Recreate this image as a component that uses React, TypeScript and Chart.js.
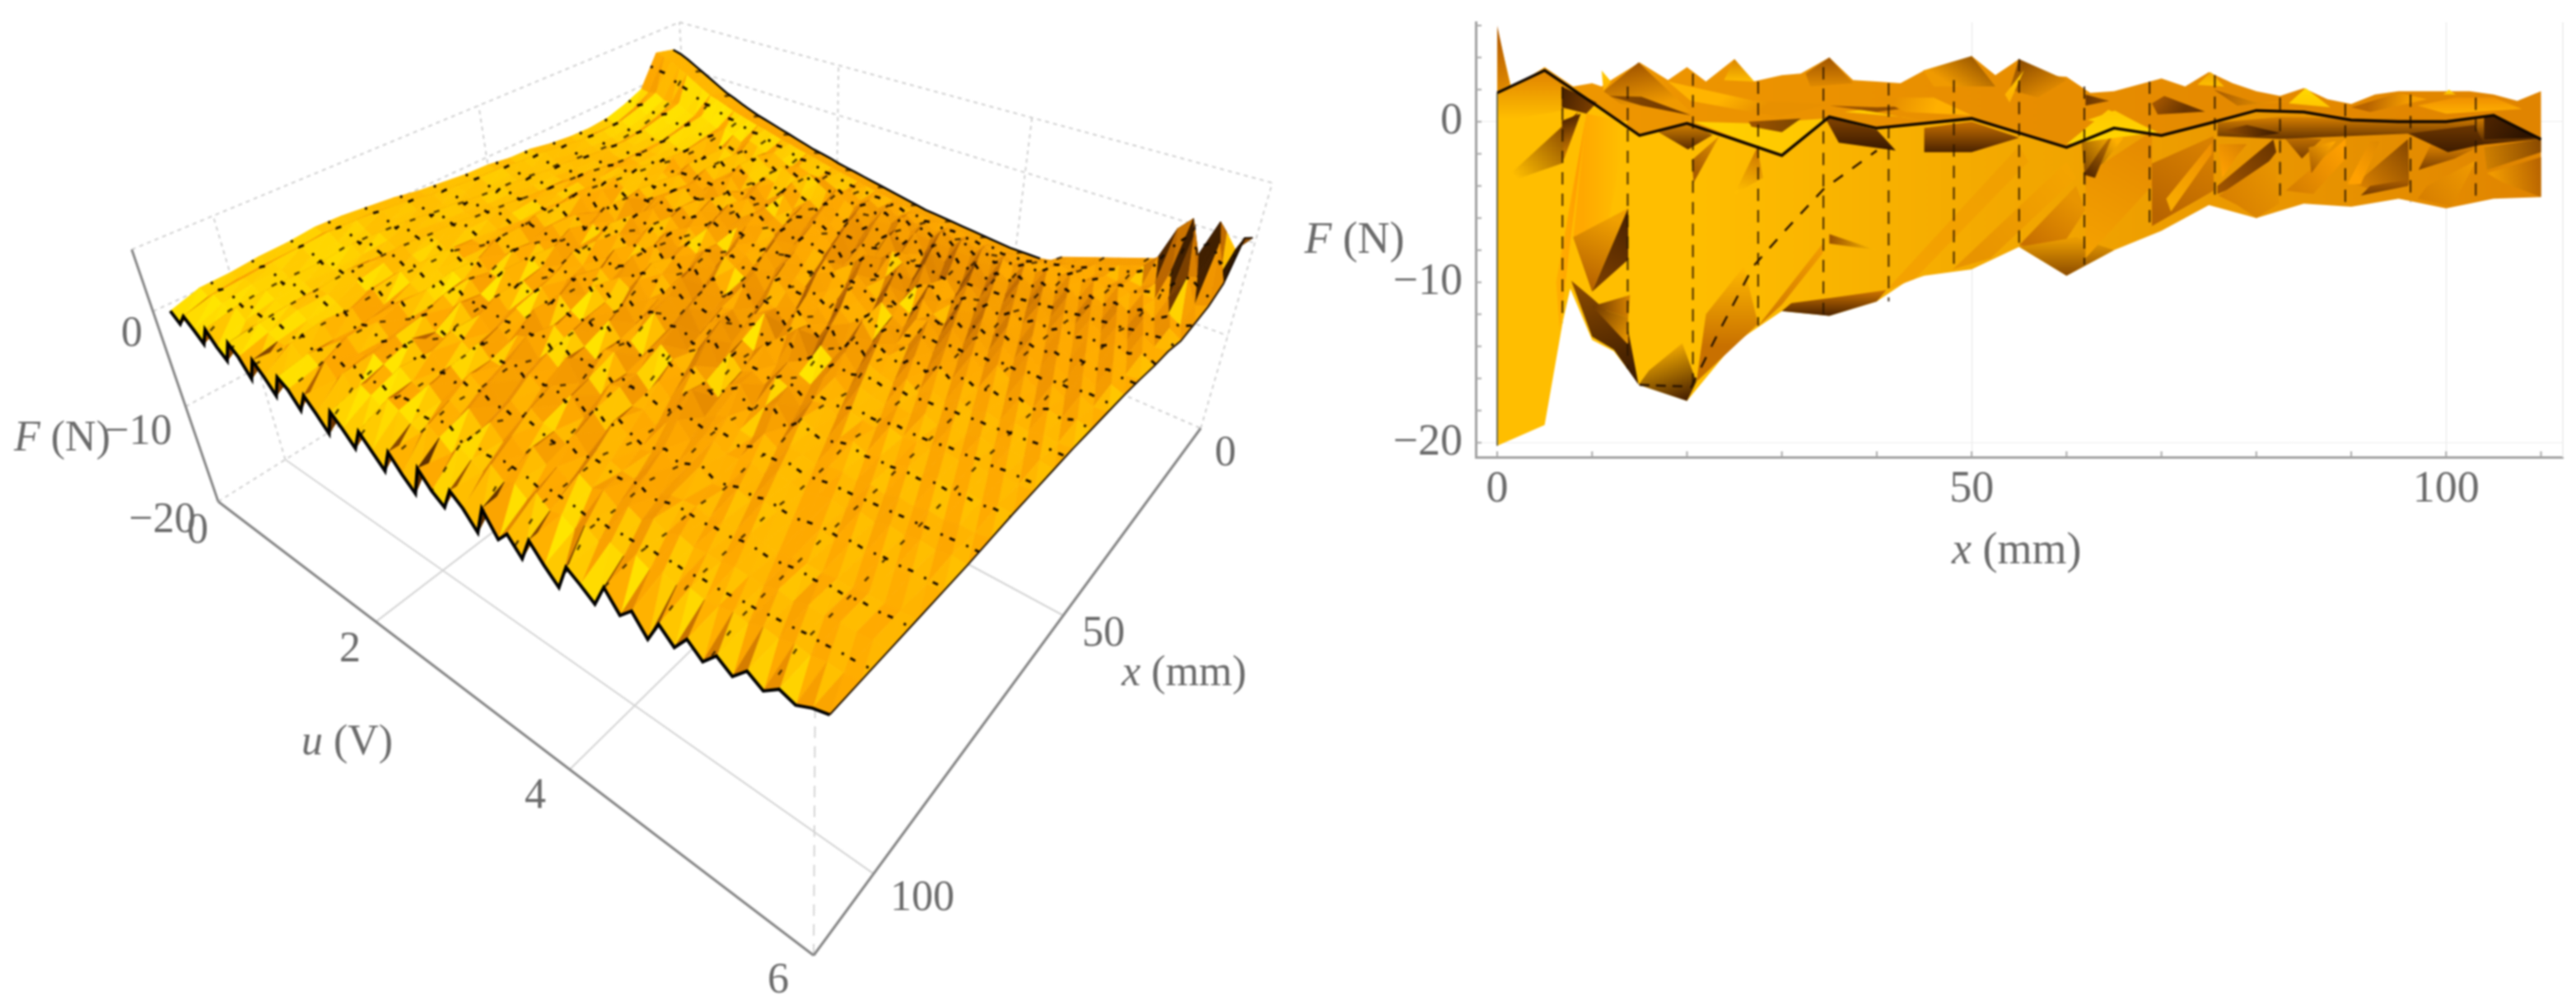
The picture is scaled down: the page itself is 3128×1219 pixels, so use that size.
import React, { useEffect, useRef } from "react";
import { Chart, registerables } from "chart.js";
Chart.register(...registerables);

// ---------- data: 3D surface (left panel), F in tenths of a newton ----------
const xMm = [0,5,10,15,20,25,30,35,40,45,50,55,60,65,70,75,80,85,90,95,100,105,110];
const uStep = 0.1;
const surfaceTenths = [
[30,36,-4,-14,-21,-23,-22,-19,-14,-13,-9,-8,-5,-2,3,6,9,10,7,6,3,2,-7],
[27,33,-6,-18,-26,-25,-26,-22,-18,-17,-12,-11,-9,-5,0,4,5,7,4,3,1,-3,-16],
[22,30,-3,-12,-18,-19,-18,-14,-10,-8,-5,-4,-1,2,7,10,12,13,11,9,6,4,-3],
[16,24,-9,-18,-23,-25,-24,-21,-17,-14,-11,-10,-6,-4,1,3,7,6,4,5,4,-1,-12],
[10,18,-11,-20,-26,-28,-27,-24,-20,-19,-15,-14,-12,-8,-5,-1,1,2,-1,-2,-3,-6,-22],
[4,11,-8,-14,-19,-22,-20,-17,-12,-10,-7,-3,-2,3,5,9,11,12,9,8,7,5,-2],
[-2,5,-14,-20,-24,-24,-25,-19,-17,-13,-12,-8,-7,-3,-1,2,6,4,3,4,2,-4,-15],
[-8,-1,-18,-24,-28,-27,-27,-23,-20,-15,-16,-11,-9,-6,-3,0,1,3,0,0,-2,-5,-24],
[-12,-4,-14,-17,-21,-24,-20,-18,-11,-11,-6,-5,0,2,6,7,10,8,12,7,6,3,-1],
[-17,-8,-19,-23,-26,-25,-24,-16,-17,-9,-10,-4,-6,0,1,5,3,9,4,6,5,-2,-10],
[-21,-12,-24,-27,-30,-28,-27,-22,-19,-14,-13,-10,-11,-7,-4,-3,-2,1,-2,2,-1,-6,-27],
[-25,-15,-20,-20,-22,-20,-15,-12,-8,-5,-2,-9,-10,-7,-6,6,7,9,5,-3,-4,-6,-3],
[-28,-18,-25,-35,-36,-33,-24,-19,-16,-6,-1,2,4,-2,-3,-2,0,1,-7,6,8,3,-14],
[-31,-21,-31,-26,-24,-22,-30,-27,-22,-20,-16,-7,-6,8,9,-5,-6,-5,-1,-7,-6,-10,-28],
[-34,-23,-25,-33,-34,-32,-19,-14,-11,-14,-13,-1,1,-5,-4,7,8,3,4,4,-2,2,-4],
[-37,-26,-29,-24,-22,-21,-28,-24,-19,-4,-1,-13,-12,0,6,-4,2,-6,-7,6,7,-5,-11],
[-40,-29,-34,-34,-33,-31,-20,-16,-13,-24,-14,-3,5,-9,-8,-6,9,7,-2,-5,-5,5,-26],
[-43,-31,-30,-22,-21,-27,-26,-11,-8,-12,-11,-9,-10,4,7,8,-3,-1,7,2,-1,-8,-6],
[-46,-34,-36,-30,-30,-19,-14,-22,-20,-5,1,5,-4,-12,-1,-7,-8,9,-6,-8,6,3,-18],
[-48,-36,-42,-37,-37,-33,-31,-16,-12,-20,-17,-2,4,6,-9,5,6,-4,-9,9,0,-11,-32],
[-50,-38,-36,-24,-24,-29,-17,-13,-24,-6,-3,-14,-11,-4,5,-2,-7,5,5,-3,-6,3,-5],
[-53,-41,-40,-31,-28,-20,-26,-23,-9,-18,-12,-5,3,-16,0,8,1,-8,0,6,8,-2,-16],
[-55,-43,-45,-36,-35,-33,-17,-11,-21,-10,-1,-10,-9,2,9,-6,-6,3,-7,-7,-1,-9,-29],
[-57,-45,-42,-22,-20,-27,-29,-24,-6,-20,-15,3,5,-8,-7,9,9,-7,8,2,-6,6,-7],
[-59,-47,-47,-29,-30,-18,-20,-16,-18,-3,-6,-12,-13,1,7,-3,-12,4,-4,-8,7,0,-20],
[-61,-49,-50,-35,-33,-31,-27,-9,-12,-16,-13,-2,6,-6,-5,-9,3,8,-5,5,-4,-7,-33],
[-63,-51,-44,-30,-41,-24,-33,-18,-6,-22,-4,-16,-1,7,-12,2,-6,-10,6,-3,3,-10,-9],
[-65,-53,-52,-38,-26,-34,-16,-26,-20,-9,-19,-3,-12,-8,4,-11,8,1,-8,7,-5,4,-24],
[-67,-55,-47,-44,-36,-22,-30,-12,-23,-15,-2,-20,5,-3,-13,6,-4,-9,3,-10,6,-3,-36],
[-69,-57,-53,-33,-42,-32,-19,-28,-9,-25,-10,-7,-15,4,-1,-8,-12,7,-6,1,-7,-12,-6],
[-71,-59,-46,-45,-28,-38,-25,-14,-21,-4,-17,-22,-2,-11,8,-5,3,-13,2,-9,4,1,-21],
[-73,-61,-55,-36,-44,-20,-34,-24,-13,-19,-6,-12,-18,2,-7,-15,6,-3,-11,5,-8,-6,-30],
[-74,-62,-49,-47,-30,-39,-16,-29,-22,-7,-24,-1,-9,-20,5,-2,-10,-14,4,-4,3,-11,-8],
[-75,-63,-56,-34,-45,-26,-36,-11,-26,-18,-3,-21,-6,-4,-16,7,-5,2,-12,-6,-9,2,-18],
[-76,-64,-50,-48,-32,-41,-21,-31,-8,-24,-14,-8,-23,3,-10,-3,-17,5,-1,-13,5,-8,-34],
[-77,-65,-57,-38,-46,-19,-37,-23,-17,-5,-27,-11,-2,-15,6,-12,-2,-8,-14,3,-6,-3,-5],
[-78,-66,-51,-49,-27,-42,-28,-10,-28,-20,-7,-25,4,-7,-18,1,-13,-6,3,-11,-2,-12,-27],
[-79,-67,-58,-35,-47,-33,-15,-32,-12,-24,-16,-3,-19,-13,2,-9,-4,-16,-5,2,-10,1,-15],
[-80,-68,-52,-50,-29,-44,-24,-26,-21,-6,-29,-14,-8,-1,-11,-20,6,-7,-13,-4,4,-9,-31],
[-81,-69,-59,-37,-48,-22,-38,-13,-30,-17,-9,-22,3,-17,-6,-2,-15,1,-10,-8,-3,-6,-7],
[-82,-69,-53,-51,-31,-45,-17,-34,-10,-27,-19,-5,-24,-9,-14,5,-8,-12,-2,-9,2,-13,-23],
[-82,-70,-60,-39,-49,-28,-40,-20,-25,-8,-12,-26,-4,-16,0,-13,-3,-5,-11,1,-7,-2,-36],
[-82,-70,-54,-52,-33,-46,-23,-15,-31,-18,-28,-7,-13,-21,-5,-7,-10,-1,-6,-12,0,-10,-10],
[-82,-69,-61,-41,-50,-24,-37,-30,-11,-25,-6,-20,-1,-10,-19,3,-12,-8,0,-5,-6,-4,-19],
[-80,-66,-55,-46,-35,-43,-18,-27,-22,-12,-21,-4,-15,-3,-8,-14,-2,-6,-9,-3,2,-9,-29],
[-72,-63,-50,-38,-43,-25,-33,-15,-28,-8,-17,-11,-2,-13,-6,-1,-9,-3,-7,-2,-4,-1,-6],
[-68,-60,-53,-44,-30,-38,-20,-26,-9,-20,-4,-14,-7,-1,-11,-5,-2,-8,-1,-6,1,-7,-24],
[-64,-58,-45,-34,-40,-22,-30,-12,-24,-6,-15,-2,-10,-5,-1,-9,-4,0,-5,-2,-3,-2,-12],
[-60,-55,-48,-39,-28,-35,-17,-23,-8,-18,-3,-11,-1,-8,-4,-2,-7,-3,1,-4,-1,-6,-30],
[-56,-50,-42,-31,-37,-21,-28,-11,-21,-5,-13,0,-8,-3,-6,1,-3,-5,-2,0,-2,-1,-8],
[-52,-46,-44,-36,-26,-32,-15,-20,-7,-15,-2,-9,-2,-6,1,-4,-1,-2,-4,-1,1,-4,-21],
[-48,-42,-39,-29,-34,-19,-25,-10,-18,-4,-11,-1,-6,0,-3,-1,-4,1,-1,-3,0,-2,-5],
[-44,-38,-41,-33,-24,-30,-14,-18,-6,-13,-1,-7,0,-5,-1,-2,0,-2,2,0,-1,1,-17],
[-40,-34,-36,-27,-32,-17,-22,-9,-15,-3,-9,-2,-4,1,-2,1,-3,3,0,2,3,-1,-3],
[-36,-20,-38,-30,-22,-27,-12,-16,-5,-11,0,-6,1,-3,2,-1,1,0,3,1,0,4,-13],
[-32,15,-30,-26,-30,-15,-20,-8,-13,-2,-8,1,-3,2,0,3,-1,4,1,3,5,2,1],
[-25,30,-12,-28,-20,-25,-10,-14,-4,-9,1,-4,2,-1,3,1,2,2,4,2,3,6,-8],
[-15,-5,28,-22,-28,-13,-18,-6,-11,-1,-6,2,-1,3,1,4,0,5,3,5,6,4,3],
[10,35,-10,5,-18,-22,-8,-12,-3,-7,2,-2,3,0,4,2,3,3,5,4,5,7,-2],
[-5,-18,30,-20,-25,-12,-15,-5,-9,0,-4,3,0,4,2,5,2,6,4,6,7,6,5],
[12,26,-8,-16,-18,-20,-14,-12,-8,-5,-3,-1,1,2,3,4,4,4,5,6,7,8,9],
];
const surfaceF = surfaceTenths.map(r => r.map(v => v / 10));

// ---------- data: projection onto the F-x plane (right panel) ----------
const topX = [0,1.5,5,8,10,11,12,15,18,20,22,25,27,30,32,35,37.5,40,42.5,45,47,50,52.5,55,57.5,60,62.5,65,70,72.5,75,77.5,80,82.5,85,87.5,90,92.5,95,100,102.5,105,107.5,110];
const topF = [5.8,2.1,3.4,2.2,2.4,2.2,2.6,3.7,2.6,3.4,2.5,3.9,2.5,2.9,3.0,4.0,2.6,2.5,2.4,3.2,2.8,4.1,2.9,3.9,2.9,2.8,1.8,1.9,2.7,2.2,3.1,2.4,1.9,1.6,2.1,1.4,1.1,1.7,1.9,1.9,1.9,1.7,1.3,1.9];
const ridgeF = [1.8,3.2,1.2,-0.85,-0.1,-1.1,-2.1,0.3,-0.4,-0.1,0.2,-0.7,-1.6,-0.4,-0.85,-0.1,0.7,0.6,0.1,0.0,0.0,0.4,-1.1];
const lowX = [0,5,6.9,7.7,10,12.3,15,20,25,30,35,40,43,45,50,55,60,65,70,75,80,85,90,95,100,105,110];
const lowF = [-20.2,-18.9,-12.5,-10.4,-13.6,-14.3,-16.4,-17.4,-13.8,-11.8,-12.1,-11.2,-10.0,-9.6,-9.2,-7.8,-9.6,-8.0,-6.8,-5.2,-6.0,-5.1,-5.3,-4.8,-5.4,-4.8,-4.7];
const meshX = [6.875,13.75,20.625,27.5,34.375,41.25,48.125,55,61.875,68.75,75.625,82.5,89.375,96.25,103.125];
const meshTopF = [2.2,2.2,3.0,2.5,3.4,2.4,2.6,3.9,2.2,2.5,2.9,1.5,1.1,1.7,1.5];
const meshLowF = [-12.5,-15.4,-17.0,-12.7,-12.0,-11.2,-9.2,-7.8,-8.9,-6.8,-5.1,-5.1,-5.2,-5.0,-4.8];
const diagonalX = [20.4,23,27,30,34.4,40];
const diagonalF = [-16.6,-13.5,-9,-7,-4.2,-1.8];
const folds = [
 {p:[0,6,1.3,2.4,0,1.8],g:[0,5,1,2],c:["#B86000","#E08A00"]},
 {p:[0,1.8,5,3.2,8.5,2,8,0.8,0,0],g:[3,2.8,3,0.2],c:["#E48A00","#FFBE00"]},
 {p:[6.8,2.2,10.5,1.2,9.4,0.5,6.8,0.9],g:[6.8,1.5,10,1],c:["#4a2200","#7a3e00"]},
 {p:[0,-4,8.5,0.6,6.8,-2.6],g:[2,-3.5,7.5,-0.5],c:["#FFBE00","#8a4a00"]},
 {p:[6.8,0.05,8.8,0.5,7,-2.4],g:[7,0,8,-1.8],c:["#5a2a00","#C87800"]},
 {p:[9.4,0.5,7.6,-8,6.6,-13,6.2,-10],g:[6,-5,9,-5],c:["#FFB000","#FF9C00"]},
 {p:[9.4,0.5,13.7,0,11.5,-7,8,-7.2],g:[9,-3,13,-3],c:["#FFA800","#FFBE00"]},
 {p:[8,-7.2,13.8,-5.4,10,-10.6],g:[12,-6,9,-10],c:["#F0A000","#B86400"]},
 {p:[7.8,-9.9,10,-13.4,12.3,-14.2,14.9,-16.4,13.8,-13,10,-11],g:[9,-10,12,-16],c:["#8a4a00","#3e1c00"]},
 {p:[10,-10.6,13.8,-8.6,13.8,-5.4],g:[10,-10,14,-6],c:["#7a3e00","#4a2200"]},
 {p:[10,-11.5,14,-10.8,13.8,-12.2],g:[10,-11.5,14,-11.5],c:["#6a3500","#D88400"]},
 {p:[10,-11.5,13.8,-13.9,13.8,-12.2],g:[10,-11.5,14,-13],c:["#6a3500","#E09000"]},
 {p:[14.9,-16.4,20,-17.4,21,-16.2,19.5,-13.8,16,-15.5],g:[20,-17.2,18,-13.8],c:["#4a2200","#FFB400"]},
 {p:[20.5,-2.4,23.4,-0.9,20.7,-3.8],g:[20.5,-3,23,-1],c:["#A85C00","#DC8C00"]},
 {p:[17,-0.65,20.4,-0.05,22.7,-0.83,20.1,-1.73],g:[20,-0.1,20,-1.7],c:["#D88400","#5a2c00"]},
 {p:[27.4,-1.6,25,-4.5,28,-3.5],g:[27.5,-1.6,26,-4.5],c:["#C87000","#FFBE00"]},
 {p:[21,-16.2,27.5,-12.6,26,-9,22,-12],g:[24,-14,24,-9],c:["#C87000","#FFB800"]},
 {p:[27.4,-12.8,34.3,-7.6,34.3,-8.2,30,-11.4],g:[27.5,-12,34,-8],c:["#D07A00","#F09A00"]},
 {p:[30,-11.8,35,-12.1,40,-11.2,41,-10.5,35,-11,31,-11.3],g:[35,-12.1,35,-10.6],c:["#4a2200","#C87000"]},
 {p:[35,-7,40,-8,35,-7.6],g:[35,-7.3,40,-7.9],c:["#9a5000","#FFBE00"]},
 {p:[41,-10.5,55,-1.5,56,-2.5,44,-9.8],g:[45,-9,55,-2],c:["#F4A200","#F0A000"]},
 {p:[48,-9.2,60,-2.5,61,-3.5,52,-8.5],g:[50,-8,60,-3],c:["#E89400","#F4A400"]},
 {p:[55,-7.7,61,-4,62,-5.5,59,-8.2],g:[57,-8,61,-5],c:["#C87000","#E89400"]},
 {p:[34.5,0.3,40,-0.5,42,-1.8,36,-1.3],g:[38,0,38,-1.6],c:["#7a3e00","#3e1c00"]},
 {p:[45,-0.4,50,0,55,-1,50,-1.9,45,-1.9],g:[50,0,50,-1.9],c:["#C87000","#4a2200"]},
 {p:[61.5,-0.6,66,-1,62,-4],g:[65,-1,60.5,-3],c:["#FFB000","#6a3500"]},
 {p:[55,-7.8,60,-9.6,65,-8,61,-7.2],g:[60,-9.6,60,-7.4],c:["#8a4a00","#E89A00"]},
 {p:[62,-3.3,69,-0.6,69,-4,62,-8.5],g:[63,-8,69,-2],c:["#F4A000","#E68C00"]},
 {p:[61.8,-3.3,63.4,-1.9,65.1,-0.5,63,-3.5],g:[62,-3,65,-1],c:["#5a2c00","#C87800"]},
 {p:[69,-2.6,75.5,-0.9,75.5,-4.3,69,-6.5],g:[70,-6,75,-1.5],c:["#B86400","#D88000"]},
 {p:[70.5,-4.8,75.3,-1.3,75.3,-2,71,-5.6],g:[71,-5,75,-1.5],c:["#F8AA00","#F09000"]},
 {p:[75.9,-4,81.8,-1.1,82.1,-1.9,80,-3.5,75.9,-4.5],g:[76,-4.2,82,-1.5],c:["#A05400","#6a3500"]},
 {p:[76.4,-3.5,78,-2.1,79,-1.4,76,-1.4],g:[76,-3,79,-1.5],c:["#FFA000","#D88000"]},
 {p:[76,-4.6,82,-2.2,82.4,-5.1,80,-6,78,-5.2],g:[77,-5,82,-3],c:["#D88000","#E89400"]},
 {p:[82.8,-0.9,86.9,-1.07,84.8,-2.3],g:[85,-1,85,-2.3],c:["#C07000","#7a3e00"]},
 {p:[83.1,-4.3,89.4,-1.07,89.4,-2.3,86,-4.5],g:[84,-4,89,-1.5],c:["#D88000","#FFA000"]},
 {p:[85.5,-1.6,88.4,-1.2,85.8,-3.2],g:[85.5,-3,88,-1.3],c:["#A85C00","#FFA800"]},
 {p:[90.4,-3.9,96,-1.07,96.1,-3.9,92.5,-4.3],g:[91,-4,96,-1.5],c:["#D88000","#8a4a00"]},
 {p:[89.6,-3.9,92,-1.2,93,-1.2,91,-3.9],g:[90,-3,93,-1.5],c:["#FFA000","#E08A00"]},
 {p:[91,-4.6,96,-4,96,-3.6,92,-4],g:[92,-4.5,92,-3.7],c:["#7a3e00","#A85C00"]},
 {p:[97.1,-3,98.4,-1.4,103.3,-1.6,100.9,-2.3],g:[100,-1.5,100,-3],c:["#D88000","#7a3e00"]},
 {p:[97,-4.8,98,-4,103.2,-2.4,100.6,-5.3],g:[98,-5,103,-2.6],c:["#D88000","#F09A00"]},
 {p:[104,-1.6,110,-1.07,110,-1.9,104.3,-3],g:[104,-2,110,-1.4],c:["#D08000","#8a4a00"]},
 {p:[104.3,-3.2,110,-2.2,110,-4.7,106,-3.8],g:[105,-3.5,110,-3],c:["#F09A00","#B86400"]},
 {p:[75.9,-0.05,82.5,0.3,103.1,0.12,105.3,0.38,110,-1.07,104.4,-1.4,100.2,-1.6,96,-0.74,82.5,-1.07,75.9,-0.9],g:[90,0.3,90,-1.4],c:["#D88000","#4a2200"]},
 {p:[96,-0.74,103,-0.2,104,-1.4,100.2,-1.9],g:[100,-0.3,100,-1.9],c:["#6a3500","#3e1c00"]},
 {p:[104,0.3,105.3,0.38,110,-1,104,-1.1],g:[105,0.3,108,-1],c:["#4a2200","#2e1400"]},
 {p:[76.4,-0.56,79,-0.2,82.5,-0.7,80,-0.95],g:[76,-0.5,82,-0.7],c:["#A05400","#3e1c00"]},
 {p:[83.4,1.14,85.2,2.1,87.8,0.9],g:[85,2,85,1],c:["#FFD800","#FFC800"]},
 {p:[62.2,0.1,65.1,0.7,69.1,-0.56,65.1,-0.2],g:[62,0,69,0],c:["#FFD000","#FFC000"]},
 {p:[73.8,2.3,75.2,3.1,76.6,2.2],g:[75,3,75,2.2],c:["#F0A800","#FFC000"]},
 {p:[99.7,1.7,100.3,2,101,1.7],g:[100,2,100,1.7],c:["#FFD000","#FFC000"]},
 {p:[69,1.15,70.3,1.6,74.6,0.63,69.6,0.45],g:[70,1.5,72,0.5],c:["#A05400","#6a3500"]},
 {p:[75.5,2,80,1.2,84,1.3,78,1],g:[76,2,82,1],c:["#A85C00","#F09A00"]},
 {p:[90,0.9,95,1.8,98,1.4,92,0.6],g:[92,1.5,96,0.8],c:["#B86400","#F8A000"]},
 {p:[97,1,101,1.5,105,1.5,108,0.8,100,0.5],g:[100,1.5,100,0.5],c:["#F09000","#FFB000"]},
 {p:[11.2,1.9,14.9,3.7,20.4,0.6,13,1.1],g:[15,3.7,16,1],c:["#A05400","#F09A00"]},
 {p:[11,3.2,12,2.5,11.2,1.9],g:[11,3,11.5,2],c:["#FFC800","#FFB000"]},
 {p:[23.9,2.6,25,3.9,27.1,2.5],g:[25,3.9,25,2.5],c:["#D88400","#FFBE00"]},
 {p:[32.5,3,35,4,37.5,2.4,33,2.2],g:[35,4,35,2.2],c:["#A05400","#E08A00"]},
 {p:[18,2.5,27.1,1.3,35,1.1,29.7,0.3,20.4,1.3],g:[25,2,27,0.4],c:["#FFB400","#E89000"]},
 {p:[11.8,1.6,15.2,1.55,20.4,0.4,15.2,1],g:[12,1.5,20,0.6],c:["#8a4a00","#6a3500"]},
 {p:[20.7,0,30,-2.1,34.6,0.2,26.8,-0.1],g:[22,-0.3,32,-1],c:["#FFD000","#FFC800"]},
 {p:[26.5,0,32,0.2,30,-0.65,26.8,-0.3],g:[26,0,32,0],c:["#A05400","#7a4500"]},
 {p:[44.9,3.2,50,4.1,52.5,2.2,46,2.2],g:[50,4,48,2.2],c:["#A05C00","#F09A00"]},
 {p:[55,3.9,60,2.6,57,1.5,54,2],g:[55,3.8,57,1.5],c:["#8a4a00","#E08A00"]},
 {p:[53.5,1.7,55.5,3.2,54,1.2],g:[55,3,54,1.3],c:["#FFC800","#FFB000"]},
 {p:[36.6,0.6,42.7,0.3,45.3,0,38.4,0.75],g:[37,0.6,45,0],c:["#FFCC00","#FFC000"]},
 {p:[35,1,40,0.6,45,1,40,0.9],g:[35,1,45,1],c:["#A05400","#8a4a00"]},
 {p:[62,1.7,64.5,1.3,62,1],g:[62,1.5,64,1.2],c:["#6a3500","#8a4a00"]},
 {p:[64.4,0.75,69.6,-0.65,60,-1.4],g:[64,0.7,64,-1],c:["#FFC800","#FFD400"]},
 {p:[40,1.5,46,1.5,50,0.4,43,0.6],g:[42,1.5,46,0.5],c:["#E89000","#FFB000"]},
];

// ---------- layout helpers ----------
const F3D = "'Liberation Serif', 'Times New Roman', serif";
const TEXT = "#6a6a6a";
const floorQuad = [[265,609],[988,1160],[1458,520],[838,250]];
const ceilQuad = [[160,303],[990,815],[1545,222],[825,27]];

function homography(q: number[][]) {
  const [[x0,y0],[x1,y1],[x2,y2],[x3,y3]] = q;
  const dx1=x1-x2, dx2=x3-x2, sx=x0-x1+x2-x3, dy1=y1-y2, dy2=y3-y2, sy=y0-y1+y2-y3;
  const den=dx1*dy2-dx2*dy1;
  const g=(sx*dy2-dx2*sy)/den, h=(dx1*sy-sx*dy1)/den;
  const a=x1-x0+g*x1, b=x3-x0+h*x3, d=y1-y0+g*y1, e=y3-y0+h*y3;
  return (s:number,t:number)=>{const w=g*s+h*t+1;return [(a*s+b*t+x0)/w,(d*s+e*t+y0)/w];};
}
const hFloor=homography(floorQuad), hCeil=homography(ceilQuad);
function proj(u:number,x:number,F:number){
  const s=u/6,t=(112.3-x)/114.6,l=(F+20)/26.5;
  const a=hFloor(s,t),b=hCeil(s,t);
  return {x:a[0]+(b[0]-a[0])*l,y:a[1]+(b[1]-a[1])*l};
}
const ramp:[number,number[]][]=[[0.1,[30,14,0]],[0.3,[90,44,0]],[0.5,[184,100,0]],[0.7,[238,146,0]],[0.88,[255,170,0]],[0.95,[255,196,0]],[1,[255,230,0]]];
function toneColor(v:number){
  if(v<=ramp[0][0])return `rgb(${ramp[0][1].join(",")})`;
  for(let i=1;i<ramp.length;i++){
    if(v<=ramp[i][0]){
      const [a,ca]=ramp[i-1],[b,cb]=ramp[i];const k=(v-a)/(b-a);
      return `rgb(${ca.map((c,j)=>Math.round(c+(cb[j]-c)*k)).join(",")})`;
    }
  }
  return "rgb(255,230,0)";
}
function facetTone(p:number[][]){
  const v=p.map(([i,j])=>[i*15,j*33,surfaceF[i][j]*8]);
  const a=[v[1][0]-v[0][0],v[1][1]-v[0][1],v[1][2]-v[0][2]],b=[v[2][0]-v[0][0],v[2][1]-v[0][1],v[2][2]-v[0][2]];
  let n=[a[1]*b[2]-a[2]*b[1],a[2]*b[0]-a[0]*b[2],a[0]*b[1]-a[1]*b[0]];
  if(n[2]<0)n=n.map(c=>-c);
  const m=Math.hypot(n[0],n[1],n[2]);
  return (0.3*n[0]+0.25*n[1]+0.92*n[2])/m;
}
function surfAt(u:number,x:number){
  const fi=Math.min(u/uStep,surfaceF.length-1.0001),fj=Math.min(x/5,xMm.length-1.0001);
  const i=Math.floor(fi),j=Math.floor(fj),a=fi-i,b=fj-j;
  return surfaceF[i][j]*(1-a)*(1-b)+surfaceF[i+1][j]*a*(1-b)+surfaceF[i][j+1]*(1-a)*b+surfaceF[i+1][j+1]*a*b;
}
const lineDs=(data:any[],color:string,width:number,dash:number[]=[])=>({data,borderColor:color,backgroundColor:color,borderWidth:width,borderDash:dash,pointRadius:0,showLine:true,fill:false,tension:0,parsing:false});

function buildLeftDatasets(){
  const back:any[]=[];
  const grid="#d4d4d4",dot="#d0d0d0",axis="#858585";
  for(const u of [2,4]){
    back.push(lineDs([proj(u,112.3,-20),proj(u,-2.3,-20)],grid,2));
    back.push(lineDs([proj(u,-2.3,-20),proj(u,-2.3,6.5)],dot,2,[5,5]));
  }
  for(const x of [50,100]){
    back.push(lineDs([proj(0,x,-20),proj(6,x,-20)],grid,2));
    back.push(lineDs([proj(0,x,-20),proj(0,x,6.5)],dot,2,[5,5]));
  }
  for(const f of [-20,-10,0]){
    back.push(lineDs([proj(0,112.3,f),proj(0,-2.3,f)],dot,2,[5,5]));
    back.push(lineDs([proj(0,-2.3,f),proj(6,-2.3,f)],dot,2,[5,5]));
  }
  back.push(lineDs([proj(0,112.3,6.5),proj(0,-2.3,6.5)],dot,2,[5,5]));
  back.push(lineDs([proj(0,-2.3,6.5),proj(6,-2.3,6.5)],dot,2,[5,5]));
  back.push(lineDs([proj(0,-2.3,-20),proj(0,-2.3,6.5)],dot,2,[5,5]));
  back.push(lineDs([proj(6,-2.3,-20),proj(6,-2.3,6.5)],dot,2,[5,5]));
  back.push(lineDs([proj(6,112.3,-20),proj(6,112.3,6.5)],grid,2,[14,10]));
  back.push(lineDs([proj(0,112.3,-20),proj(6,112.3,-20)],axis,3));
  back.push(lineDs([proj(6,112.3,-20),proj(6,-2.3,-20)],axis,3));
  back.push(lineDs([proj(0,112.3,-20),proj(0,112.3,6.5)],axis,3));
  const rows=surfaceF.length,cols=xMm.length;
  const facet=(tri:number[][])=>{
    const c=toneColor(facetTone(tri));
    const pts=tri.map(([i,j])=>proj(i*uStep,xMm[j],surfaceF[i][j]));
    back.push({data:[...pts,pts[0]],borderColor:c,backgroundColor:c,borderWidth:1,pointRadius:0,showLine:true,fill:"shape",tension:0,parsing:false});
  };
  for(let i=0;i<rows-1;i++)for(let j=0;j<cols-1;j++){
    facet([[i,j],[i+1,j],[i+1,j+1]]);
    facet([[i,j],[i+1,j+1],[i,j+1]]);
  }
  const ink="#170b00";
  for(const x of meshX){
    const pts=surfaceF.map((_,i)=>proj(i*uStep,x,surfAt(i*uStep,x)));
    back.push(lineDs(pts,ink,3,[3,9,7,15]));
  }
  for(const x of meshX){
    const u=x/110*6;
    const pts=xMm.map(xx=>proj(u,xx,surfAt(u,xx)));
    back.push(lineDs(pts,"rgba(23,11,0,0.75)",2.5,[7,24]));
  }
  back.push(lineDs(surfaceF.map((r,i)=>proj(i*uStep,110,r[22])),"#000",4));
  back.push(lineDs(surfaceF.slice(0,44).map((r,i)=>proj(i*uStep,0,r[0])),"#000",2.5));
  back.push(lineDs(xMm.map((x,j)=>proj(6,x,surfaceF[60][j])),"#1a0c00",2));
  return back.reverse();
}

function gradFill(f:any){
  return (c:any)=>{
    const {x,y}=c.chart.scales;
    if(!x||!y)return f.c[0];
    const pts=[x.getPixelForValue(f.g[0]),y.getPixelForValue(f.g[1]),x.getPixelForValue(f.g[2]),y.getPixelForValue(f.g[3])];
    if(!pts.every(Number.isFinite))return f.c[0];
    const g=c.chart.ctx.createLinearGradient(pts[0],pts[1],pts[2],pts[3]);
    g.addColorStop(0,f.c[0]);g.addColorStop(1,f.c[1]);
    return g;
  };
}
function polyDs(f:any){
  const data:any[]=[];
  for(let i=0;i<f.p.length;i+=2)data.push({x:f.p[i],y:f.p[i+1]});
  data.push(data[0]);
  return {data,backgroundColor:gradFill(f),borderColor:"rgba(0,0,0,0)",borderWidth:0,pointRadius:0,showLine:true,fill:"shape",tension:0,parsing:false};
}
function buildRightDatasets(){
  const back:any[]=[];
  const ridge=xMm.map((x,i)=>({x,y:ridgeF[i]}));
  const upper=topX.map((x,i)=>({x,y:topF[i]}));
  const lower=lowX.map((x,i)=>({x,y:lowF[i]}));
  const flat=(a:any[])=>a.flatMap(o=>[o.x,o.y]);
  back.push(polyDs({p:[...flat(upper),...flat([...ridge].reverse())],g:[0,0,110,0],c:["#F09800","#E08400"]}));
  back.push(polyDs({p:[...flat(ridge),...flat([...lower].reverse())],g:[20,0,110,0],c:["#FFBE00","#E08400"]}));
  folds.forEach(f=>back.push(polyDs(f)));
  meshX.forEach((x,i)=>back.push(lineDs([{x,y:meshTopF[i]},{x,y:meshLowF[i]}],"rgba(40,20,0,0.8)",2.2,[15,11])));
  back.push(lineDs(diagonalX.map((x,i)=>({x,y:diagonalF[i]})),"#2a1400",2.5,[14,14]));
  back.push(lineDs([{x:15,y:-16.4},{x:20,y:-16.5}],"#2a1400",2.5,[12,8]));
  back.push(lineDs([{x:0,y:1.8},{x:0,y:-20.2}],"#6a6a50",2));
  back.push(lineDs(ridge,"#120800",3.5));
  return back.reverse();
}

const leftLabels:any[]=[
  ["0",160,406],["\u221210",168,525],["\u221220",197,632],
  ["0",240,645],["2",425,789],["4",650,967],["6",945,1191],
  ["0",1488,551],["50",1340,770],["100",1120,1091],
];
const leftTextPlugin={id:"leftText",afterDraw(chart:any){
  const c=chart.ctx;c.save();c.fillStyle=TEXT;c.textAlign="center";c.textBaseline="middle";
  c.font=`52px ${F3D}`;
  leftLabels.forEach(([t,x,y])=>c.fillText(t,x,y));
  const mixed=(x:number,y:number,v:string,r:string)=>{
    c.textAlign="left";c.font=`italic 52px ${F3D}`;c.fillText(v,x,y);
    const w=c.measureText(v).width;c.font=`52px ${F3D}`;c.fillText(r,x+w,y);
  };
  mixed(17,533,"F"," (N)");mixed(366,902,"u"," (V)");mixed(1362,818,"x"," (mm)");
  c.restore();
}};
const fAxisTicks=[-20,-18,-16,-14,-12,-10,-8,-6,-4,-2,0,2,4,6];
const xAxisTicks=[0,10,20,30,40,50,60,70,80,90,100,110];
const rightDecorPlugin={id:"rightDecor",afterDraw(chart:any){
  const c=chart.ctx,{x,y}=chart.scales,a=chart.chartArea;
  c.save();c.strokeStyle="#a8a8a8";c.lineWidth=2;
  c.beginPath();
  x.ticks.forEach((t:any)=>{const p=x.getPixelForValue(t.value);c.moveTo(p,a.bottom);c.lineTo(p,a.bottom-7);});
  y.ticks.forEach((t:any)=>{const p=y.getPixelForValue(t.value);c.moveTo(a.left,p);c.lineTo(a.left+7,p);});
  c.stroke();
  c.strokeStyle="#efefef";c.beginPath();c.moveTo(a.right,a.top);c.lineTo(a.right,a.bottom);c.stroke();
  c.fillStyle=TEXT;c.textBaseline="middle";
  const mixed=(px:number,py:number,v:string,r:string)=>{
    c.textAlign="left";c.font=`italic 54px ${F3D}`;c.fillText(v,px,py);
    const w=c.measureText(v).width;c.font=`54px ${F3D}`;c.fillText(r,px+w,py);
  };
  mixed(24,293,"F"," (N)");mixed(810,670,"x"," (mm)");
  c.restore();
}};

export default function App(){
  const leftRef=useRef<HTMLCanvasElement>(null);
  const rightRef=useRef<HTMLCanvasElement>(null);
  useEffect(()=>{
    const base={responsive:false,animation:false,devicePixelRatio:1,events:[],
      plugins:{legend:{display:false},tooltip:{enabled:false}}};
    const left=new Chart(leftRef.current as any,{type:"scatter",
      data:{datasets:buildLeftDatasets()},
      plugins:[leftTextPlugin],
      options:{...base,layout:{padding:0},scales:{
        x:{type:"linear",display:false,min:0,max:1560},
        y:{type:"linear",display:false,min:0,max:1219,reverse:true},
      }} as any});
    const right=new Chart(rightRef.current as any,{type:"scatter",
      data:{datasets:buildRightDatasets()},
      plugins:[rightDecorPlugin],
      options:{...base,layout:{padding:{top:27,right:16,left:0,bottom:0}},scales:{
        x:{type:"linear",min:-2.26,max:112.3,
          afterFit:(s:any)=>{s.height=165;s.paddingLeft=0;s.paddingRight=0;},
          afterBuildTicks:(s:any)=>{s.ticks=xAxisTicks.map(value=>({value}));},
          border:{color:"#a0a0a0",width:3},
          grid:{drawTicks:false,tickLength:0,color:(c:any)=>(c.tick&&(c.tick.value===50||c.tick.value===100))?"#e6e6e6":"rgba(0,0,0,0)"},
          ticks:{autoSkip:false,maxRotation:0,padding:7,color:TEXT,font:{family:"Liberation Serif",size:54},
            callback:(v:any)=>(v%50===0?String(v):"")}},
        y:{type:"linear",min:-20.9,max:6.2,
          afterFit:(s:any)=>{s.width=232;s.paddingTop=0;s.paddingBottom=0;},
          afterBuildTicks:(s:any)=>{s.ticks=fAxisTicks.map(value=>({value}));},
          border:{color:"#a0a0a0",width:3},
          grid:{drawTicks:false,tickLength:0,color:(c:any)=>(c.tick&&(c.tick.value===0||c.tick.value===-20))?"#ececec":"rgba(0,0,0,0)"},
          ticks:{autoSkip:false,padding:16,color:TEXT,font:{family:"Liberation Serif",size:54},
            callback:(v:any)=>(v%10===0?(v<0?"\u2212"+Math.abs(v):String(v)):"")}},
      }} as any});
    return ()=>{left.destroy();right.destroy();};
  },[]);
  const st=(l:number):any=>({position:"absolute",left:l,top:0,filter:"blur(1.1px)"});
  return (
    <div style={{position:"absolute",left:0,top:0,width:3128,height:1219,background:"#fff",overflow:"hidden"}}>
      <canvas ref={leftRef} width={1560} height={1219} style={st(0)}/>
      <canvas ref={rightRef} width={1568} height={720} style={st(1560)}/>
    </div>
  );
}
